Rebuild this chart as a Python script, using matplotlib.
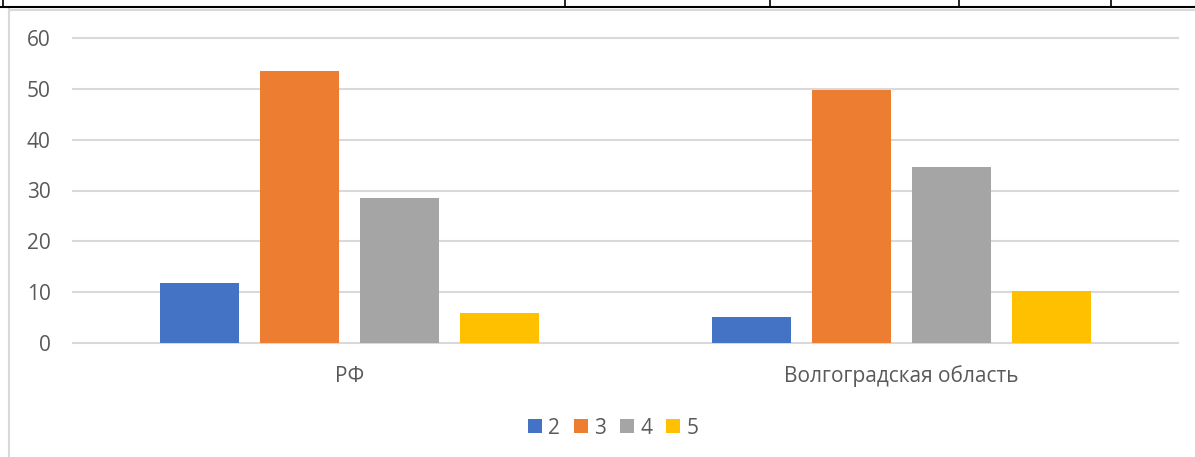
import numpy as np
import matplotlib
matplotlib.use("Agg")
import matplotlib.pyplot as plt
from matplotlib.lines import Line2D

# ── data ─────────────────────────────────────────────
regions = ["РФ", "Волгоградская область"]
grades = ["2", "3", "4", "5"]
grade_2 = [11.8, 5.1]
grade_3 = [53.5, 49.7]
grade_4 = [28.6, 34.6]
grade_5 = [5.9, 10.3]
series = [grade_2, grade_3, grade_4, grade_5]
colours = ["#4472C4", "#ED7D31", "#A5A5A5", "#FFC000"]

plt.rcParams["font.family"] = ["Open Sans", "DejaVu Sans"]
text_col = "#595959"
grid_col = "#D9D9D9"

W, H = 1195, 457
fig = plt.figure(figsize=(W / 100, H / 100), dpi=100)
ax = fig.add_axes([73 / W, 1 - 343.3 / H, (1178 - 73) / W, (343.3 - 37.7) / H])

x = np.arange(len(regions))
bar_w = 0.143
step = 0.181
for i, (vals, c) in enumerate(zip(series, colours)):
    ax.bar(x + (i - 1.5) * step, vals, width=bar_w, color=c, label=grades[i], zorder=3)

ax.set_xlim(-0.5, 1.5)
ax.set_ylim(0, 60)
ax.set_yticks(range(0, 61, 10))
ax.set_xticks(x)
ax.set_xticklabels(regions)
ax.grid(axis="y", color=grid_col, linewidth=1.5, zorder=0)
for gl in ax.get_ygridlines():
    gl.set_clip_on(False)
for s in ax.spines.values():
    s.set_visible(False)
ax.tick_params(axis="y", length=0, pad=16, labelsize=15, labelcolor=text_col)
ax.tick_params(axis="x", length=0, pad=16, labelsize=15, labelcolor=text_col)

leg = fig.legend(loc="center", bbox_to_anchor=(613 / W, 1 - 428 / H), ncol=4,
                 frameon=False, fontsize=15, handlelength=0.67, handleheight=0.67,
                 handletextpad=0.3, columnspacing=0.67, labelcolor=text_col)

# chart frame and the table edge above it (page fragment)
fig.add_artist(Line2D([9 / W, 9 / W], [0, 1 - 9 / H], transform=fig.transFigure,
                      color="#D9D9D9", linewidth=1.5))
fig.add_artist(Line2D([9 / W, 1], [1 - 9.5 / H, 1 - 9.5 / H], transform=fig.transFigure,
                      color="#D9D9D9", linewidth=1.5))
fig.add_artist(Line2D([0, 1], [1 - 7 / H, 1 - 7 / H], transform=fig.transFigure,
                      color="black", linewidth=1.5))
for vx in [3, 565, 770, 959, 1111]:
    fig.add_artist(Line2D([vx / W, vx / W], [1 - 7 / H, 1], transform=fig.transFigure,
                          color="black", linewidth=1.2))

fig.savefig("out.png", dpi=100)
